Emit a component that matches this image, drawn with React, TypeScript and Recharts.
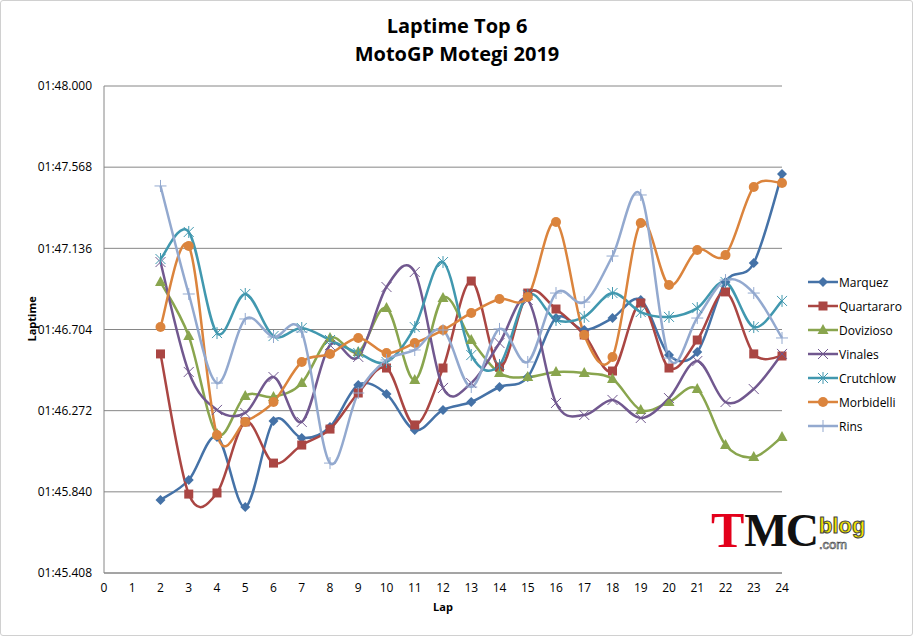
import React from "react";
import { LineChart, Line, XAxis, YAxis, CartesianGrid } from "recharts";

// lap times in seconds, laps 2..24
const laps = [2, 3, 4, 5, 6, 7, 8, 9, 10, 11, 12, 13, 14, 15, 16, 17, 18, 19, 20, 21, 22, 23, 24];

const marquez = [105.797, 105.903, 106.132, 105.759, 106.217, 106.127, 106.185, 106.409, 106.361, 106.169, 106.276, 106.318, 106.398, 106.451, 106.765, 106.701, 106.765, 106.861, 106.568, 106.584, 106.957, 107.058, 107.532];
const quartararo = [106.574, 105.828, 105.834, 106.212, 105.993, 106.089, 106.174, 106.366, 106.499, 106.196, 106.499, 106.962, 106.504, 106.898, 106.813, 106.675, 106.483, 106.845, 106.499, 106.648, 106.904, 106.574, 106.563];
const dovizioso = [106.957, 106.669, 106.148, 106.35, 106.345, 106.419, 106.659, 106.584, 106.818, 106.435, 106.872, 106.648, 106.472, 106.451, 106.478, 106.472, 106.441, 106.276, 106.318, 106.387, 106.089, 106.025, 106.132];
const vinales = [107.063, 106.478, 106.276, 106.26, 106.451, 106.212, 106.621, 106.558, 106.93, 107.01, 106.393, 106.419, 106.632, 106.861, 106.313, 106.249, 106.329, 106.233, 106.339, 106.536, 106.318, 106.387, 106.574];
const crutchlow = [107.079, 107.223, 106.685, 106.893, 106.669, 106.712, 106.648, 106.579, 106.531, 106.717, 107.063, 106.568, 106.515, 106.888, 106.755, 106.771, 106.898, 106.797, 106.771, 106.818, 106.957, 106.717, 106.856];
const morbidelli = [106.717, 107.148, 106.142, 106.212, 106.318, 106.531, 106.574, 106.659, 106.579, 106.632, 106.701, 106.792, 106.866, 106.877, 107.276, 106.675, 106.558, 107.271, 106.941, 107.127, 107.1, 107.462, 107.484];
const rins = [107.468, 106.893, 106.419, 106.76, 106.664, 106.691, 105.993, 106.366, 106.542, 106.595, 106.701, 106.398, 106.707, 106.531, 106.898, 106.85, 107.095, 107.42, 106.552, 106.765, 106.967, 106.898, 106.659];

const xTicks = [0, 1, 2, 3, 4, 5, 6, 7, 8, 9, 10, 11, 12, 13, 14, 15, 16, 17, 18, 19, 20, 21, 22, 23, 24];
const yTicks = [105.408, 105.84, 106.272, 106.704, 107.136, 107.568, 108.0];

const series = [
  { key: "Marquez", values: marquez, color: "#4572A7", marker: "diamond" },
  { key: "Quartararo", values: quartararo, color: "#AA4643", marker: "square" },
  { key: "Dovizioso", values: dovizioso, color: "#89A54E", marker: "triangle" },
  { key: "Vinales", values: vinales, color: "#71588F", marker: "x" },
  { key: "Crutchlow", values: crutchlow, color: "#4198AF", marker: "star" },
  { key: "Morbidelli", values: morbidelli, color: "#DB843D", marker: "circle" },
  { key: "Rins", values: rins, color: "#93A9CF", marker: "plus" },
];

const data = laps.map((lap, i) => {
  const row: Record<string, number> = { lap };
  series.forEach((s) => (row[s.key] = s.values[i]));
  return row;
});

const font = "'Open Sans', 'Liberation Sans', sans-serif";

const fmtTime = (v: number) => {
  const min = Math.floor(v / 60);
  const sec = v - min * 60;
  return `${String(min).padStart(2, "0")}:${sec.toFixed(3).padStart(6, "0")}`;
};

// Excel-like smoothed line (Catmull-Rom through every point)
const smoothCurve = (context: any) => {
  let pts: number[][] = [];
  return {
    areaStart() {},
    areaEnd() {},
    lineStart() {
      pts = [];
    },
    point(x: number, y: number) {
      pts.push([+x, +y]);
    },
    lineEnd() {
      if (!pts.length) return;
      context.moveTo(pts[0][0], pts[0][1]);
      for (let i = 0; i < pts.length - 1; i++) {
        const p0 = pts[Math.max(i - 1, 0)];
        const p1 = pts[i];
        const p2 = pts[i + 1];
        const p3 = pts[Math.min(i + 2, pts.length - 1)];
        context.bezierCurveTo(
          p1[0] + (p2[0] - p0[0]) / 6,
          p1[1] + (p2[1] - p0[1]) / 6,
          p2[0] - (p3[0] - p1[0]) / 6,
          p2[1] - (p3[1] - p1[1]) / 6,
          p2[0],
          p2[1]
        );
      }
    },
  };
};

function Marker({ cx, cy, kind, color }: { cx: number; cy: number; kind: string; color: string }) {
  if (cx == null || cy == null) return null;
  switch (kind) {
    case "diamond":
      return <polygon points={`${cx},${cy - 5} ${cx + 5},${cy} ${cx},${cy + 5} ${cx - 5},${cy}`} fill={color} />;
    case "square":
      return <rect x={cx - 4.5} y={cy - 4.5} width={9} height={9} fill={color} />;
    case "triangle":
      return <polygon points={`${cx},${cy - 6} ${cx + 5.5},${cy + 4} ${cx - 5.5},${cy + 4}`} fill={color} />;
    case "x":
      return (
        <g stroke={color} strokeWidth={1}>
          <line x1={cx - 5} y1={cy - 5} x2={cx + 5} y2={cy + 5} />
          <line x1={cx - 5} y1={cy + 5} x2={cx + 5} y2={cy - 5} />
        </g>
      );
    case "star":
      return (
        <g stroke={color} strokeWidth={1}>
          <line x1={cx - 5} y1={cy - 5} x2={cx + 5} y2={cy + 5} />
          <line x1={cx - 5} y1={cy + 5} x2={cx + 5} y2={cy - 5} />
          <line x1={cx} y1={cy - 6} x2={cx} y2={cy + 6} />
        </g>
      );
    case "circle":
      return <circle cx={cx} cy={cy} r={5} fill={color} />;
    case "plus":
      return (
        <g stroke={color} strokeWidth={1}>
          <line x1={cx - 6} y1={cy} x2={cx + 6} y2={cy} />
          <line x1={cx} y1={cy - 6} x2={cx} y2={cy + 6} />
        </g>
      );
    default:
      return null;
  }
}

function LegendBox() {
  return (
    <div style={{ position: "absolute", left: 808, top: 270, fontFamily: font, fontSize: 12, color: "#000" }}>
      {series.map((s) => (
        <div key={s.key} style={{ display: "flex", alignItems: "center", height: 24 }}>
          <svg width={30} height={14} style={{ marginRight: 1 }}>
            <line x1={0} y1={7} x2={30} y2={7} stroke={s.color} strokeWidth={2.5} />
            <Marker cx={15} cy={7} kind={s.marker} color={s.color} />
          </svg>
          <span>{s.key}</span>
        </div>
      ))}
    </div>
  );
}

function Logo() {
  return (
    <div style={{ position: "absolute", left: 711, top: 505, display: "flex", alignItems: "flex-end", whiteSpace: "nowrap" }}>
      <span style={{ fontFamily: "'Liberation Serif', serif", fontWeight: 700, fontSize: 50, color: "#e3001b", lineHeight: "50px" }}>T</span>
      <span style={{ fontFamily: "'Liberation Serif', serif", fontWeight: 700, fontSize: 46, color: "#111", lineHeight: "48px", letterSpacing: -2 }}>MC</span>
      <div style={{ display: "flex", flexDirection: "column", marginLeft: 2, marginBottom: 4 }}>
        <span style={{ fontFamily: "'Liberation Sans', sans-serif", fontWeight: 700, fontSize: 22, color: "#f2e600", WebkitTextStroke: "1px #444", lineHeight: "24px" }}>blog</span>
        <span style={{ fontFamily: "'Liberation Sans', sans-serif", fontSize: 13, color: "#fff", WebkitTextStroke: "0.6px #333", lineHeight: "13px" }}>.com</span>
      </div>
    </div>
  );
}

export default function App() {
  return (
    <div style={{ position: "fixed", left: 0, top: 0, width: 914, height: 637, background: "#fff" }}>
      <div style={{ position: "absolute", left: 0, top: 0, width: 911, height: 634, border: "1px solid #d0d0d0", borderRadius: 3 }} />
      <div style={{ position: "absolute", left: 0, top: 12, width: 914, textAlign: "center", fontFamily: font, fontWeight: 700, fontSize: 20, lineHeight: "28px", color: "#000" }}>
        <div>Laptime Top 6</div>
        <div>MotoGP Motegi 2019</div>
      </div>
      <div style={{ position: "absolute", left: 0, top: 0 }}>
        <LineChart width={913} height={636} data={data} margin={{ top: 86, right: 131, bottom: 33, left: 44 }}>
          <CartesianGrid vertical={false} stroke="#868686" strokeWidth={1} />
          <XAxis
            type="number"
            dataKey="lap"
            domain={[0, 24]}
            ticks={xTicks}
            interval={0}
            height={30}
            stroke="#868686"
            tickLine={false}
            tickSize={0}
            tickMargin={10}
            tick={{ fill: "#000", fontSize: 12, fontFamily: font }}
            label={{ value: "Lap", position: "insideBottom", offset: -8, fill: "#000", fontSize: 11, fontWeight: 700, fontFamily: font }}
          />
          <YAxis
            type="number"
            domain={[105.408, 108.0]}
            ticks={yTicks}
            interval={0}
            width={60}
            stroke="#868686"
            tickLine={false}
            tickSize={0}
            tickMargin={12}
            tickFormatter={fmtTime}
            tick={{ fill: "#000", fontSize: 12, fontFamily: font }}
            label={{ value: "Laptime", angle: -90, position: "insideLeft", offset: -12, dy: 12, fill: "#000", fontSize: 11, fontWeight: 700, fontFamily: font }}
          />
          {series.map((s) => (
            <Line
              key={s.key}
              dataKey={s.key}
              type={smoothCurve as any}
              stroke={s.color}
              strokeWidth={2.5}
              isAnimationActive={false}
              activeDot={false}
              dot={(p: any) => <Marker key={`${s.key}-${p.index}`} cx={p.cx} cy={p.cy} kind={s.marker} color={s.color} />}
            />
          ))}
        </LineChart>
      </div>
      <LegendBox />
      <Logo />
    </div>
  );
}
